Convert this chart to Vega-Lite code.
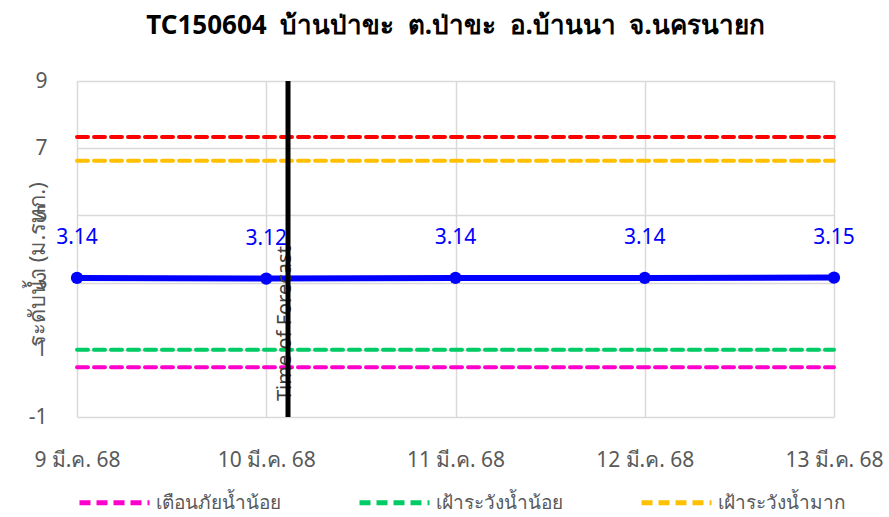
{
  "$schema": "https://vega.github.io/schema/vega-lite/v6.json",
  "width": 757,
  "height": 336,
  "autosize": {"type": "none"},
  "padding": {"left": 77, "top": 81, "right": 55, "bottom": 100},
  "background": "white",
  "title": {"text": "TC150604\u00a0\u00a0บ้านป่าขะ\u00a0\u00a0ต.ป่าขะ\u00a0\u00a0อ.บ้านนา\u00a0\u00a0จ.นครนายก", "fontSize": 26, "fontWeight": "bold", "color": "#000000", "offset": 31, "font": "Noto Sans"},
  "config": {
    "font": "Noto Sans",
    "view": {"stroke": null},
    "axis": {"gridColor": "#d9d9d9", "gridWidth": 1.5, "domain": false, "ticks": false, "labelColor": "#595959", "labelFontSize": 21, "titleColor": "#595959"}
  },
  "datasets": {
    "level": [
      {"d": 9, "v": 3.14},
      {"d": 10, "v": 3.12},
      {"d": 11, "v": 3.14},
      {"d": 12, "v": 3.14},
      {"d": 13, "v": 3.15}
    ],
    "thresholds": [
      {"name": "เตือนภัยน้ำน้อย", "d": 9, "v": 0.48},
      {"name": "เตือนภัยน้ำน้อย", "d": 13, "v": 0.48},
      {"name": "เฝ้าระวังน้ำน้อย", "d": 9, "v": 1.0},
      {"name": "เฝ้าระวังน้ำน้อย", "d": 13, "v": 1.0},
      {"name": "เฝ้าระวังน้ำมาก", "d": 9, "v": 6.63},
      {"name": "เฝ้าระวังน้ำมาก", "d": 13, "v": 6.63},
      {"name": "เตือนภัยน้ำมาก", "d": 9, "v": 7.33},
      {"name": "เตือนภัยน้ำมาก", "d": 13, "v": 7.33}
    ],
    "forecast": [{"d": 10.115, "label": "Time of Forecast"}]
  },
  "layer": [
    {
      "data": {"name": "thresholds"},
      "mark": {"type": "line", "strokeDash": [11, 6], "strokeWidth": 4, "strokeCap": "round"},
      "encoding": {
        "x": {"field": "d", "type": "quantitative", "scale": {"domain": [9, 13], "nice": false, "zero": false},
          "axis": {"values": [9, 10, 11, 12, 13], "labelExpr": "datum.value + ' มี.ค. 68'", "title": null, "labelPadding": 32, "labelFlush": false, "labelOverlap": false}},
        "y": {"field": "v", "type": "quantitative", "scale": {"domain": [-1, 9], "nice": false, "zero": false},
          "axis": {"values": [-1, 1, 3, 5, 7, 9], "labelExpr": "'' + datum.value", "title": "ระดับน้ำ (ม.รทก.)", "titleFontSize": 22, "titleFontWeight": "normal", "titleX": -40, "titleY": 183, "titleBaseline": "middle", "titlePadding": 0, "labelPadding": 30}},
        "color": {"field": "name", "type": "nominal",
          "scale": {"domain": ["เตือนภัยน้ำน้อย", "เฝ้าระวังน้ำน้อย", "เฝ้าระวังน้ำมาก", "เตือนภัยน้ำมาก"], "range": ["#FF00CC", "#00CC66", "#FFC000", "#FF0000"]},
          "legend": {"values": ["เตือนภัยน้ำน้อย", "เฝ้าระวังน้ำน้อย", "เฝ้าระวังน้ำมาก"], "title": null, "orient": "none", "legendX": 0, "legendY": 384, "direction": "horizontal", "columns": 3, "symbolType": "stroke", "symbolSize": 4900, "symbolStrokeWidth": 5, "symbolDash": [11, 6], "labelFontSize": 19, "labelColor": "#595959", "columnPadding": 68, "labelOffset": 4, "labelLimit": 200}}
      }
    },
    {
      "data": {"name": "level"},
      "mark": {"type": "line", "color": "#0000FF", "strokeWidth": 6, "point": {"filled": true, "size": 150, "color": "#0000FF"}},
      "encoding": {
        "x": {"field": "d", "type": "quantitative"},
        "y": {"field": "v", "type": "quantitative"}
      }
    },
    {
      "data": {"name": "level"},
      "mark": {"type": "text", "color": "#0000FF", "fontSize": 21, "dy": -40},
      "encoding": {
        "x": {"field": "d", "type": "quantitative"},
        "y": {"field": "v", "type": "quantitative"},
        "text": {"field": "v", "type": "quantitative", "format": ".2f"}
      }
    },
    {
      "data": {"name": "forecast"},
      "mark": {"type": "text", "angle": 270, "align": "left", "baseline": "middle", "fontSize": 20, "color": "#404040", "y": 320, "dy": -3},
      "encoding": {
        "x": {"field": "d", "type": "quantitative"},
        "text": {"field": "label"}
      }
    },
    {
      "data": {"name": "forecast"},
      "mark": {"type": "rule", "color": "#000000", "strokeWidth": 5},
      "encoding": {
        "x": {"field": "d", "type": "quantitative"}
      }
    }
  ]
}
